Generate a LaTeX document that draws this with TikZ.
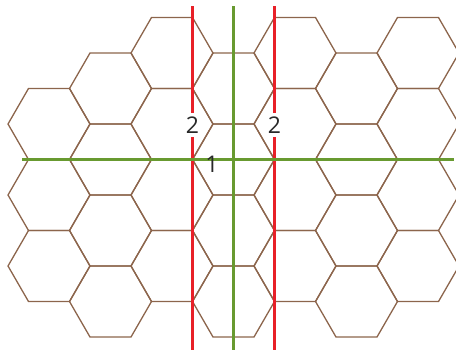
\documentclass[tikz,border=0pt]{standalone}
\usepackage{fontspec}
\setmainfont{Open Sans}
\definecolor{hexbrown}{RGB}{140,101,76}
\definecolor{axisred}{RGB}{232,32,40}
\definecolor{axisgreen}{RGB}{104,154,48}
\definecolor{labelgray}{RGB}{40,40,40}
\tikzset{
  hexline/.style={draw=hexbrown, line width=1.3pt},
  redaxis/.style={draw=axisred, line width=2.6pt},
  greenaxis/.style={draw=axisgreen, line width=2.6pt},
  numlabel/.style={text=labelgray, font=\fontsize{23}{23}\selectfont, inner sep=0pt}
}
\begin{document}
\begin{tikzpicture}[x=1pt,y=-1pt]
\useasboundingbox (0,0) rectangle (456,351);
\clip (0,0) rectangle (456,351);

\foreach \k in {1,2,3}
  \draw[hexline] (49,{53+71*\k}) +(0:41) -- +(60:41) -- +(120:41) -- +(180:41) -- +(240:41) -- +(300:41) -- cycle;
\foreach \i in {1,...,6}
  \foreach \k in {0,...,3}
    \draw[hexline] ({49+61.5*\i},{53+35.5*mod(\i,2)+71*\k}) +(0:41) -- +(60:41) -- +(120:41) -- +(180:41) -- +(240:41) -- +(300:41) -- cycle;

\coordinate (redLtop) at (192.5,6);
\coordinate (redLbot) at (192.5,350);
\coordinate (redRtop) at (274.5,6);
\coordinate (redRbot) at (274.5,350);
\coordinate (greenVtop) at (233.5,6);
\coordinate (greenVbot) at (233.5,350);
\coordinate (greenHleft) at (22,159.5);
\coordinate (greenHright) at (454,159.5);

\draw[redaxis] (redLtop) -- (redLbot);
\draw[redaxis] (redRtop) -- (redRbot);
\draw[greenaxis] (greenVtop) -- (greenVbot);
\draw[greenaxis] (greenHleft) -- (greenHright);

\node[numlabel, fill=white, inner sep=3.8pt] (twoL) at (192.5,125) {2};
\node[numlabel, fill=white, inner sep=3.8pt] (twoR) at (274.5,125) {2};
\node[numlabel] (one) at (212,164) {1};
\end{tikzpicture}
\end{document}
